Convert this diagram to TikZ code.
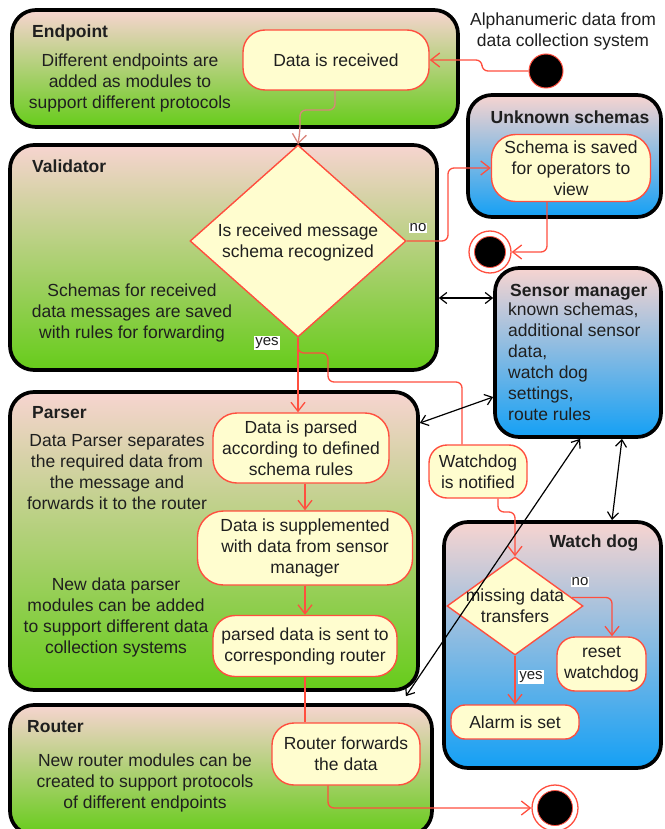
\documentclass[tikz,border=0pt]{standalone}
\usepackage{fontspec}
\setmainfont{Liberation Sans}
\usetikzlibrary{arrows.meta,shapes.geometric,calc}
\definecolor{nodefill}{HTML}{FFFDCF}
\definecolor{nodered}{HTML}{FF4F3F}
\definecolor{linkbrown}{HTML}{D9857C}
\definecolor{boxtop}{HTML}{F7D4D0}
\definecolor{boxgreen}{HTML}{66CC1A}
\definecolor{boxblue}{HTML}{14A0F5}
\definecolor{txt}{HTML}{1F1F1F}
\begin{document}
\begin{tikzpicture}[x=1pt,y=-1pt,
  base/.style={font=\fontsize{17.5}{21}\selectfont, text=txt, align=center, inner sep=0pt},
  greenbox/.style={draw=black, line width=3.7pt, rounded corners=24pt, top color=boxtop, bottom color=boxgreen, inner sep=0pt},
  bluebox/.style={draw=black, line width=3.7pt, rounded corners=24pt, top color=boxtop, bottom color=boxblue, inner sep=0pt},
  act/.style={base, draw=nodered, fill=nodefill, line width=1.4pt},
  decision/.style={diamond, draw=nodered, fill=nodefill, line width=1.4pt, inner sep=0pt},
  boxtitle/.style={font=\bfseries\fontsize{17.5}{21}\selectfont, text=txt, inner sep=0pt, anchor=west},
  desc/.style={base},
  flow/.style={draw=nodered, line width=1.3pt, -{Straight Barb[length=9pt,width=14pt]}, rounded corners=6pt},
  plainflow/.style={draw=nodered, line width=1.3pt, rounded corners=6pt},
  link/.style={draw=black, line width=1.2pt, {Straight Barb[length=7pt,width=11pt]}-{Straight Barb[length=7pt,width=11pt]}},
  lbl/.style={font=\fontsize{15}{17}\selectfont, fill=white, inner sep=1pt, text=txt},
  startdot/.style={circle, fill=black, draw=nodered, line width=1pt, minimum size=34pt, inner sep=0pt},
  endring/.style={circle, draw=nodered, fill=white, line width=1.3pt, inner sep=0pt},
  enddot/.style={circle, fill=black, draw=nodered, line width=0.8pt, inner sep=0pt}
]
\useasboundingbox (0,0) rectangle (664,829);
\clip (0,0) rectangle (664,829);

% containers
\node[greenbox, minimum width=446pt, minimum height=117pt] (endpoint) at (235,68.5) {};
\node[greenbox, minimum width=427pt, minimum height=225pt] (validator) at (223.5,257.5) {};
\node[greenbox, minimum width=408pt, minimum height=298pt] (parser) at (214,541) {};
\node[greenbox, minimum width=422pt, minimum height=130pt] (router) at (221,770) {};
\node[bluebox, minimum width=193pt, minimum height=122pt] (unknown) at (564.5,156) {};
\node[bluebox, minimum width=166pt, minimum height=169pt] (sensor) at (578,352.5) {};
\node[bluebox, minimum width=217pt, minimum height=246pt] (wdog) at (552.5,645) {};

% titles
\node[boxtitle] (tEndpoint) at (32,33) {Endpoint};
\node[boxtitle] (tValidator) at (32,166) {Validator};
\node[boxtitle] (tParser) at (32,413) {Parser};
\node[boxtitle] (tRouter) at (27,727) {Router};
\node[boxtitle, anchor=center] (tUnknown) at (570,117) {Unknown schemas};
\node[boxtitle] (tSensor) at (510,292) {Sensor manager};
\node[boxtitle, anchor=center] (tWdog) at (594,543) {Watch dog};

% descriptions
\node[desc] (dEndpoint) at (130,83) {Different endpoints are\\added as modules to\\support different protocols};
\node[desc] (dAlpha) at (563,31) {Alphanumeric data from\\data collection system};
\node[desc] (dValidator) at (132,313) {Schemas for received\\data messages are saved\\with rules for forwarding};
\node[desc, align=left, anchor=west] (dSensor) at (508,362) {known schemas,\\additional sensor\\data,\\watch dog\\settings,\\route rules};
\node[desc] (dParser1) at (117,472.5) {Data Parser separates\\the required data from\\the message and\\forwards it to the router};
\node[desc] (dParser2) at (116,617.5) {New data parser\\modules can be added\\to support different data\\collection systems};
\node[desc] (dRouter) at (145,783) {New router modules can be\\created to support protocols\\of different endpoints};

% activities
\node[act, rounded corners=22pt, minimum width=186pt, minimum height=60pt] (recv) at (336,60) {Data is received};
\node[act, rounded corners=24pt, minimum width=159pt, minimum height=67pt] (schema) at (571,168) {Schema is saved\\for operators to\\view};
\node[act, rounded corners=24pt, minimum width=176pt, minimum height=70pt] (parsed) at (301,448) {Data is parsed\\according to defined\\schema rules};
\node[act, rounded corners=26pt, minimum width=215pt, minimum height=74pt] (suppl) at (305,548) {Data is supplemented\\with data from sensor\\manager};
\node[act, rounded corners=22pt, minimum width=184pt, minimum height=61pt] (sent) at (305,646) {parsed data is sent to\\corresponding router};
\node[act, rounded corners=18pt, minimum width=98pt, minimum height=53pt] (notified) at (478,471.5) {Watchdog\\is notified};
\node[act, rounded corners=18pt, minimum width=89pt, minimum height=54pt] (reset) at (601.5,664) {reset\\watchdog};
\node[act, rounded corners=14pt, minimum width=128pt, minimum height=34pt] (alarm) at (515,722) {Alarm is set};
\node[act, rounded corners=22pt, minimum width=148pt, minimum height=62pt] (forward) at (346,754) {Router forwards\\the data};

% decisions
\node[decision, minimum width=216pt, minimum height=192pt] (dval) at (298,241) {};
\node[base] (dvalText) at (298,242) {Is received message\\schema recognized};
\node[decision, minimum width=136pt, minimum height=98pt] (dwd) at (515,606) {};
\node[base] (dwdText) at (515,606) {missing data\\transfers};

% start / end
\node[startdot] (start) at (546,71) {};
\node[endring, minimum size=42pt] (end1) at (490,252) {};
\node[enddot, minimum size=31pt] (end1in) at (end1) {};
\node[endring, minimum size=46pt] (end2) at (555,808) {};
\node[enddot, minimum size=35pt] (end2in) at (end2) {};

% flows
\draw[flow] (start.west) -- (482,71) -- (482,60) -- (recv.east);
\draw[flow, draw=linkbrown] ([xshift=-1pt]recv.south) -- (335,110) -- (300,110) -- (300,130) -- (dval.north);
\draw[flow] (dval.east) -- (448,241) -- (448,168) -- (schema.west);
\draw[flow] ([xshift=-24pt]schema.south) -- (547,252) -- (end1.east);
\draw[flow] (dval.south) -- (dval.south |- parsed.north);
\draw[plainflow] (dval.south) -- (298,353) -- (328,353) -- (328,382) -- (462,382) -- ([xshift=-16pt]notified.north);
\draw[flow] ([xshift=20pt]notified.south) -- (498,512) -- (515,512) -- (dwd.north);
\draw[flow] (suppl.north |- parsed.south) -- (suppl.north);
\draw[flow] (suppl.south) -- (sent.north);
\draw[plainflow] (sent.south) -- ([xshift=-41pt]forward.north);
\draw[flow] ([xshift=-18pt]forward.south) -- (328,808) -- (end2.west);
\draw[flow] ($(dwd.north)!0.83!(dwd.east)$) -- (612,597.5) -- ([xshift=10.5pt]reset.north);
\draw[flow] (dwd.south) -- (alarm.north);

% links
\draw[link] (validator.east |- 0,298) -- (sensor.west |- 0,298);
\draw[link] (parser.east |- 0,423) -- (sensor.west |- 0,397);
\draw[link] ([shift={(-28,-7)}]router.north east) -- ([xshift=2pt]sensor.south);
\draw[link] (sensor.south -| 622,0) -- (wdog.north -| 612,0);

% labels
\node[lbl] (lNo1) at (418,228) {no};
\node[lbl] (lYes1) at (267,343) {yes};
\node[lbl] (lNo2) at (580,582) {no};
\node[lbl] (lYes2) at (531,677) {yes};
\end{tikzpicture}
\end{document}
